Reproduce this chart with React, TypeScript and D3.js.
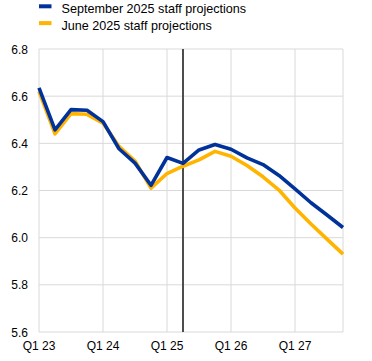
import React from 'react';
import * as d3 from 'd3';

const quarters = [
  'Q1 23', 'Q2 23', 'Q3 23', 'Q4 23',
  'Q1 24', 'Q2 24', 'Q3 24', 'Q4 24',
  'Q1 25', 'Q2 25', 'Q3 25', 'Q4 25',
  'Q1 26', 'Q2 26', 'Q3 26', 'Q4 26',
  'Q1 27', 'Q2 27', 'Q3 27', 'Q4 27',
];
const tickLabels = ['Q1 23', 'Q1 24', 'Q1 25', 'Q1 26', 'Q1 27'];
const yTicks = [5.6, 5.8, 6.0, 6.2, 6.4, 6.6, 6.8];

const september = [
  6.635, 6.457, 6.543, 6.54, 6.492, 6.377, 6.316, 6.222,
  6.34, 6.315, 6.372, 6.395, 6.375, 6.338, 6.31, 6.264,
  6.207, 6.148, 6.096, 6.043,
];
const june = [
  6.62, 6.44, 6.526, 6.523, 6.486, 6.387, 6.325, 6.21,
  6.272, 6.303, 6.33, 6.366, 6.345, 6.306, 6.258, 6.202,
  6.126, 6.058, 5.994, 5.93,
];
const cutoff = 'Q2 25';

const series = [
  { name: 'September 2025 staff projections', values: september, color: '#003299' },
  { name: 'June 2025 staff projections', values: june, color: '#ffb400' },
];

export default function App() {
  const width = 372;
  const height = 361;
  const margin = { top: 49, right: 29, bottom: 29, left: 39 };

  const x = d3
    .scalePoint<string>()
    .domain(quarters)
    .range([margin.left, width - margin.right]);
  const y = d3
    .scaleLinear()
    .domain([5.6, 6.8])
    .range([height - margin.bottom, margin.top]);

  const line = d3
    .line<number>()
    .x((d, i) => x(quarters[i]) as number)
    .y((d) => y(d));

  const font = 'Arial, "Liberation Sans", sans-serif';
  const gridX = [...tickLabels, quarters[quarters.length - 1]];

  return (
    <svg
      width={width}
      height={height}
      style={{ position: 'absolute', left: 0, top: 0 }}
      fontFamily={font}
    >
      {/* gridlines */}
      {yTicks.map((t) => (
        <line
          key={'h' + t}
          x1={margin.left}
          x2={width - margin.right}
          y1={y(t)}
          y2={y(t)}
          stroke="#d9d9d9"
          strokeWidth={1}
        />
      ))}
      {gridX.map((q) => (
        <line
          key={'v' + q}
          x1={x(q)}
          x2={x(q)}
          y1={margin.top}
          y2={height - margin.bottom}
          stroke="#d9d9d9"
          strokeWidth={1}
        />
      ))}

      {/* axis labels */}
      {yTicks.map((t) => (
        <text
          key={'yl' + t}
          x={28}
          y={y(t) + 4.5}
          textAnchor="end"
          fontSize={12}
          fill="#000"
        >
          {t.toFixed(1)}
        </text>
      ))}
      {tickLabels.map((q) => (
        <text
          key={'xl' + q}
          x={x(q)}
          y={350}
          textAnchor="middle"
          fontSize={12}
          fill="#000"
        >
          {q}
        </text>
      ))}

      {/* projection cut-off */}
      <line
        x1={x(cutoff)}
        x2={x(cutoff)}
        y1={margin.top}
        y2={height - margin.bottom}
        stroke="#4d4d4d"
        strokeWidth={2}
      />

      {/* series, June drawn first so September sits on top */}
      {[...series].reverse().map((s) => (
        <path
          key={s.name}
          d={line(s.values) || ''}
          fill="none"
          stroke={s.color}
          strokeWidth={3.6}
          strokeLinejoin="round"
        />
      ))}

      {/* legend */}
      {series.map((s, i) => (
        <g key={'lg' + s.name} transform={`translate(39, ${4.3 + i * 16.8})`}>
          <rect width={12.5} height={4} fill={s.color} />
          <text x={22.5} y={9} fontSize={12.6} fill="#000">
            {s.name}
          </text>
        </g>
      ))}
    </svg>
  );
}
